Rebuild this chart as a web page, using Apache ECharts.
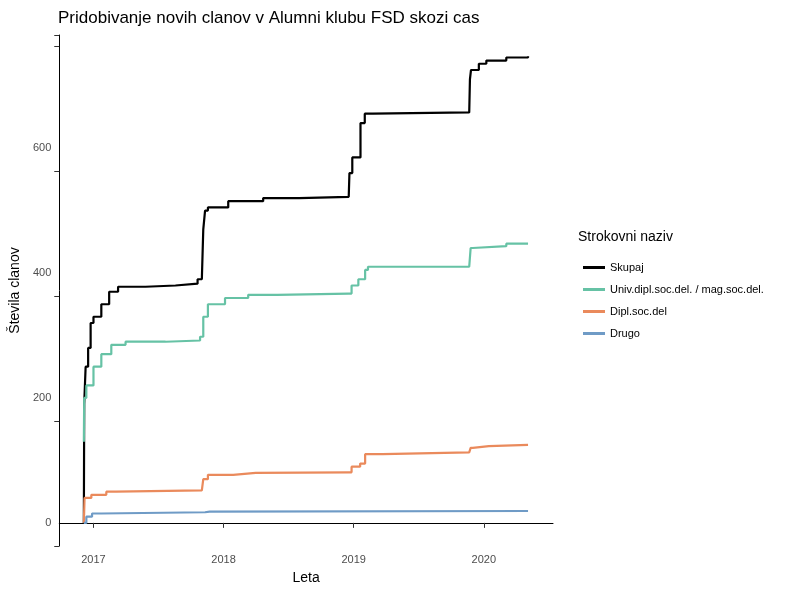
<!DOCTYPE html><html><head><meta charset="utf-8"><script src="https://cdn.jsdelivr.net/npm/echarts@6/dist/echarts.min.js"></script></head><body style="margin:0"><div id="c" style="width:800px;height:591px"></div><script>
const seriesNames=["Skupaj","Univ.dipl.soc.del. / mag.soc.del.","Dipl.soc.del","Drugo"];
const skupaj=[["2016-12-05",0],["2016-12-06",190],["2016-12-10",250],["2016-12-17",280],["2016-12-24",320],["2017-01-01",330],["2017-01-23",350],["2017-02-14",370],["2017-03-11",378],["2017-05-27",380],["2017-08-19",383],["2017-10-20",390],["2017-11-01",390],["2017-11-05",470],["2017-11-10",500],["2017-11-18",505],["2018-01-14",515],["2018-04-22",520],["2018-08-01",522],["2018-12-18",522],["2018-12-20",560],["2018-12-28",585],["2019-01-14",585],["2019-01-20",640],["2019-02-01",655],["2019-02-24",657],["2019-11-21",657],["2019-11-23",710],["2019-11-26",725],["2019-12-18",735],["2020-01-08",740],["2020-03-04",745],["2020-05-04",747]];
const univ=[["2016-12-05",130],["2016-12-06",200],["2016-12-12",220],["2017-01-01",250],["2017-01-23",270],["2017-02-20",285],["2017-04-01",290],["2017-07-22",292],["2017-10-27",298],["2017-11-01",298],["2017-11-05",330],["2017-11-18",350],["2018-01-05",360],["2018-03-11",365],["2018-06-01",367],["2018-12-18",367],["2018-12-26",380],["2019-01-14",390],["2019-02-02",405],["2019-02-10",410],["2019-11-21",410],["2019-11-25",440],["2019-12-01",443],["2020-03-04",447],["2020-05-04",447]];
const dipl=[["2016-12-05",0],["2016-12-07",40],["2016-12-26",45],["2017-02-06",50],["2017-03-05",52],["2017-11-01",52],["2017-11-05",70],["2017-11-18",77],["2018-01-28",80],["2018-04-01",81],["2018-12-18",81],["2018-12-26",90],["2019-01-19",95],["2019-02-02",110],["2019-03-23",113],["2019-11-21",115],["2019-11-25",120],["2019-12-01",123],["2020-01-15",125],["2020-05-04",125]];
const drugo=[["2016-12-05",0],["2016-12-12",10],["2016-12-28",15],["2017-01-23",17],["2017-11-10",18],["2017-11-23",19],["2020-05-04",19]];
const colors=["#000000","#66c2a5","#ea8a5c","#6f9bc6"];
const data=[skupaj,univ,dipl,drugo];
const txt={color:"#4d4d4d",fontSize:11,fontFamily:"Liberation Sans"};
const ch=echarts.init(document.getElementById('c'));
ch.setOption({animation:false,
title:{text:"Pridobivanje novih clanov v Alumni klubu FSD skozi cas",left:53,top:5,textStyle:{fontSize:17,fontWeight:"normal",color:"#000",fontFamily:"Liberation Sans"}},
grid:{left:53,right:247,top:35,bottom:45},
graphic:[{type:"text",left:578,top:230,style:{text:"Strokovni naziv",fontSize:14,fill:"#000",fontFamily:"Liberation Sans"}}],
legend:{orient:"vertical",left:578,top:257,itemGap:11,itemWidth:22,icon:"rect",itemHeight:3,textStyle:{fontSize:11,color:"#000",fontFamily:"Liberation Sans"},data:seriesNames},
xAxis:{type:"time",min:"2016-09-27",max:"2020-07-13",name:"Leta",nameLocation:"middle",nameGap:25,nameTextStyle:{fontSize:14,color:"#000",fontFamily:"Liberation Sans"},
axisLine:{lineStyle:{color:"#000"}},axisTick:{show:true,lineStyle:{color:"#333"}},splitLine:{show:false},
axisLabel:Object.assign({formatter:v=>{const d=new Date(v);return d.getMonth()===0&&d.getDate()===1?String(d.getFullYear()):"";}},txt),
minInterval:365*864e5,interval:365.25*864e5},
yAxis:{type:"value",min:-37,max:781,interval:200,name:"Števila clanov",nameLocation:"middle",nameGap:33,nameTextStyle:{fontSize:14,color:"#000",fontFamily:"Liberation Sans"},
axisLine:{show:true,lineStyle:{color:"#000"}},axisTick:{show:true,lineStyle:{color:"#333"}},splitLine:{show:false},
axisLabel:Object.assign({formatter:v=>(v%200===0&&v>=0)?String(v):"",customValues:[0,200,400,600]},txt)},
series:seriesNames.map((n,i)=>({name:n,type:"line",step:"end",data:data[i],showSymbol:false,color:colors[i],lineStyle:{width:2.2,color:colors[i]}}))
});
</script></body></html>
